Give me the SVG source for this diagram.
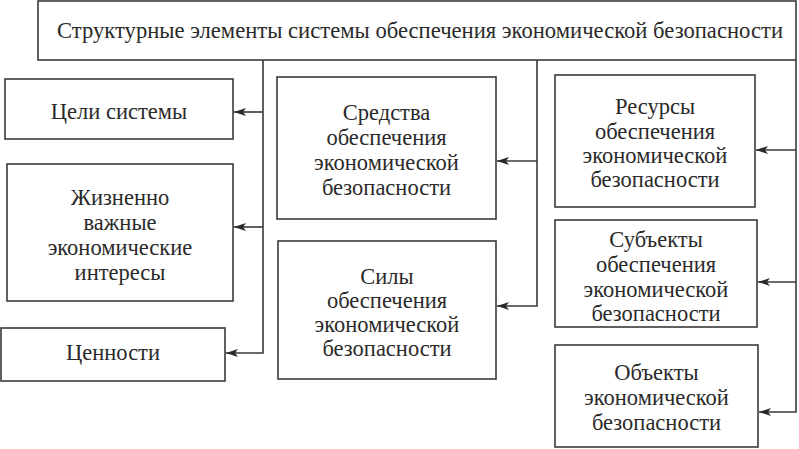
<svg xmlns="http://www.w3.org/2000/svg" width="799" height="449" viewBox="0 0 799 449">
<style>
.box{fill:#fff;stroke:#3a3a3a;stroke-width:1.6}
.c{fill:none;stroke:#3a3a3a;stroke-width:1.6}
</style>
<defs>
<marker id="ah" viewBox="0 0 12 8" refX="12" refY="4" markerWidth="12" markerHeight="8" markerUnits="userSpaceOnUse" orient="auto">
<path d="M0,0 L12,4 L0,8 L3,4 Z" fill="#2a2a2a"/>
</marker>
</defs>
<g id="connectors">
<path class="c" d="M263,60 V353 H226" marker-end="url(#ah)"/>
<path class="c" d="M263,112 H234" marker-end="url(#ah)"/>
<path class="c" d="M263,227 H234" marker-end="url(#ah)"/>
<path class="c" d="M537,60 V306 H497" marker-end="url(#ah)"/>
<path class="c" d="M537,161 H497" marker-end="url(#ah)"/>
<path class="c" d="M796,60 V412 H759" marker-end="url(#ah)"/>
<path class="c" d="M796,150 H756" marker-end="url(#ah)"/>
<path class="c" d="M796,282 H758" marker-end="url(#ah)"/>
</g>
<g font-family="Liberation Serif, serif" font-size="22.5" fill="#2a2a2a" text-anchor="middle">
<g id="top">
<rect class="box" x="38" y="1" width="758" height="59"/>
<text x="420" y="38" textLength="726" lengthAdjust="spacingAndGlyphs">Структурные элементы системы обеспечения экономической безопасности</text>
</g>
<g id="goals">
<rect class="box" x="5" y="79" width="228" height="60"/>
<text x="119" y="119">Цели системы</text>
</g>
<g id="interests">
<rect class="box" x="7" y="164" width="226" height="137"/>
<text><tspan x="120" y="205">Жизненно</tspan><tspan x="120" y="230">важные</tspan><tspan x="120" y="255">экономические</tspan><tspan x="120" y="280">интересы</tspan></text>
</g>
<g id="values">
<rect class="box" x="1" y="328" width="224" height="53"/>
<text x="113" y="360">Ценности</text>
</g>
<g id="means">
<rect class="box" x="277" y="77" width="219" height="142"/>
<text><tspan x="386.5" y="120">Средства</tspan><tspan x="386.5" y="145">обеспечения</tspan><tspan x="386.5" y="170">экономической</tspan><tspan x="386.5" y="195">безопасности</tspan></text>
</g>
<g id="forces">
<rect class="box" x="278" y="241" width="218" height="138"/>
<text><tspan x="387" y="284">Силы</tspan><tspan x="387" y="308">обеспечения</tspan><tspan x="387" y="332">экономической</tspan><tspan x="387" y="356">безопасности</tspan></text>
</g>
<g id="resources">
<rect class="box" x="555" y="75" width="200" height="132"/>
<text><tspan x="655" y="114">Ресурсы</tspan><tspan x="655" y="139">обеспечения</tspan><tspan x="655" y="163">экономической</tspan><tspan x="655" y="187">безопасности</tspan></text>
</g>
<g id="subjects">
<rect class="box" x="555" y="220" width="202" height="107"/>
<text><tspan x="656" y="247">Субъекты</tspan><tspan x="656" y="272">обеспечения</tspan><tspan x="656" y="297">экономической</tspan><tspan x="656" y="321">безопасности</tspan></text>
</g>
<g id="objects">
<rect class="box" x="555" y="345" width="203" height="102"/>
<text><tspan x="656.5" y="380">Объекты</tspan><tspan x="656.5" y="405">экономической</tspan><tspan x="656.5" y="430">безопасности</tspan></text>
</g>
</g>
</svg>
